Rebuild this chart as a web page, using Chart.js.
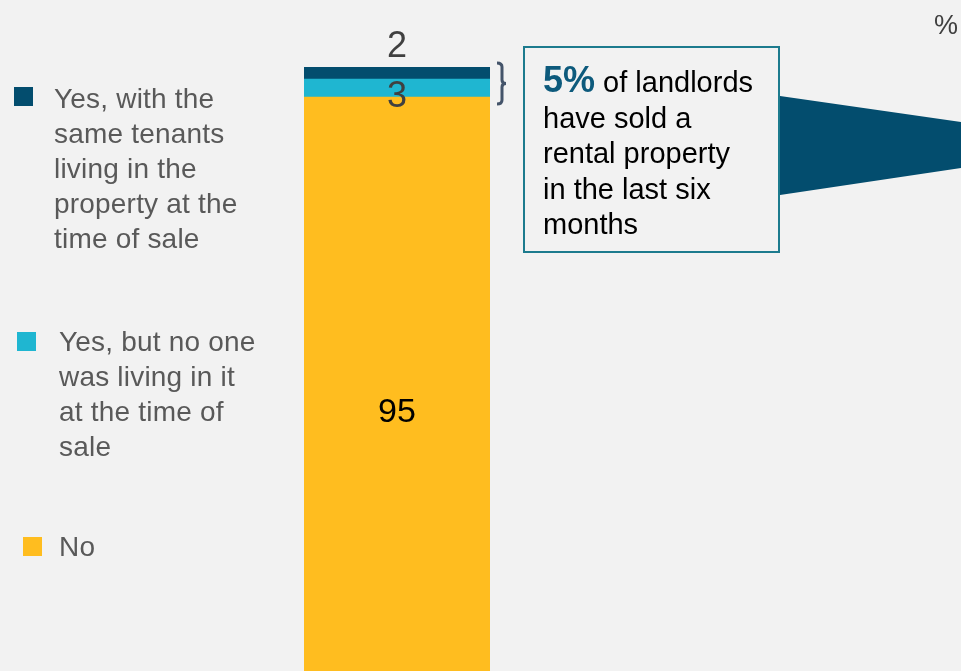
<!DOCTYPE html>
<html>
<head>
<meta charset="utf-8">
<script src="https://cdn.jsdelivr.net/npm/chart.js@4.4.1/dist/chart.umd.min.js"></script>
<style>
  html, body { margin: 0; padding: 0; background: #f2f2f2; }
  body { width: 961px; height: 671px; position: relative; overflow: hidden;
         font-family: "Liberation Sans", Arial, sans-serif; }
  #c { position: absolute; left: 0; top: 0; }
  .leg { position: absolute; color: #595959; font-size: 28px; line-height: 35px; letter-spacing: 0.2px; }
  .sw { position: absolute; width: 19px; height: 19px; }
  #callout { position: absolute; left: 523px; top: 46px; width: 253px; height: 203px;
             border: 2px solid #1d7b8e; }
  #callText { position: absolute; left: 543px; top: 65px; font-size: 29px; line-height: 35.5px;
              color: #000; }
  #callText b { color: #0d5a7c; font-size: 36px; line-height: 0; }
  #pct { position: absolute; left: 934px; top: 10px; font-size: 27px; line-height: 30px; color: #404040; }
  svg { position: absolute; left: 0; top: 0; }
</style>
</head>
<body>
<canvas id="c" width="961" height="671"></canvas>
<svg width="961" height="671">
  <polygon points="780,96 961,122 961,168 780,195" fill="#034d6e"/>
  <path d="M497,63 Q502,63 502,67 L502,80 Q502,83.5 506,83.5 Q502,83.5 502,87 L502,100 Q502,104 497,104"
        fill="none" stroke="#44546a" stroke-width="3"/>
</svg>

<div class="sw" style="left:14px;top:87px;background:#034d6e"></div>
<div class="leg" style="left:54px;top:81px">Yes, with the<br>same tenants<br>living in the<br>property at the<br>time of sale</div>

<div class="sw" style="left:17px;top:332px;background:#1fb6d1"></div>
<div class="leg" style="left:59px;top:324px">Yes, but no one<br>was living in it<br>at the time of<br>sale</div>

<div class="sw" style="left:23px;top:537px;background:#ffbd1f"></div>
<div class="leg" style="left:59px;top:529px">No</div>

<div id="callout"></div>
<div id="callText"><b>5%</b> of landlords<br>have sold a<br>rental property<br>in the last six<br>months</div>
<div id="pct">%</div>

<script>
// single stacked bar, bottom to top
const categories = ['Sold a rental property']
const seriesNames = ['No', 'Yes, but no one was living in it at the time of sale', 'Yes, with the same tenants living in the property at the time of sale']
const noValues = [95]
const emptyValues = [3]
const tenantsValues = [2]

const colors = ['#ffbd1f', '#1fb6d1', '#034d6e']

// label placement: [anchor, dy, font size, colour]
const labelStyle = [
    ['mid', 38, 34, '#000000'],
    ['mid', 19, 36, '#404040'],
    ['top', -10, 36, '#404040']
]

const barLabels = {
    id: 'barLabels',
    afterDatasetsDraw(chart) {
        const ctx = chart.ctx
        ctx.save()
        ctx.textAlign = 'center'
        ctx.textBaseline = 'alphabetic'
        chart.data.datasets.forEach(function(ds, i) {
            const el = chart.getDatasetMeta(i).data[0]
            const s = labelStyle[i]
            let y = s[0] == 'top' ? el.y : (el.y + el.base) / 2
            ctx.font = s[2] + 'px "Liberation Sans", Arial, sans-serif'
            ctx.fillStyle = s[3]
            ctx.fillText(String(ds.data[0]), el.x, y + s[1])
        })
        ctx.restore()
    }
}

new Chart(document.getElementById('c'), {
    type: 'bar',
    data: {
        labels: categories,
        datasets: [
            { label: seriesNames[0], data: noValues, backgroundColor: colors[0] },
            { label: seriesNames[1], data: emptyValues, backgroundColor: colors[1] },
            { label: seriesNames[2], data: tenantsValues, backgroundColor: colors[2] }
        ]
    },
    options: {
        responsive: false,
        animation: false,
        layout: { padding: { left: 304, right: 471, top: 67, bottom: 0 } },
        datasets: { bar: { barPercentage: 1, categoryPercentage: 1, borderWidth: 0 } },
        scales: {
            x: { stacked: true, display: false },
            y: { stacked: true, display: false, min: 0, max: 100 }
        },
        plugins: { legend: { display: false }, tooltip: { enabled: false } }
    },
    plugins: [barLabels]
})
</script>
</body>
</html>
